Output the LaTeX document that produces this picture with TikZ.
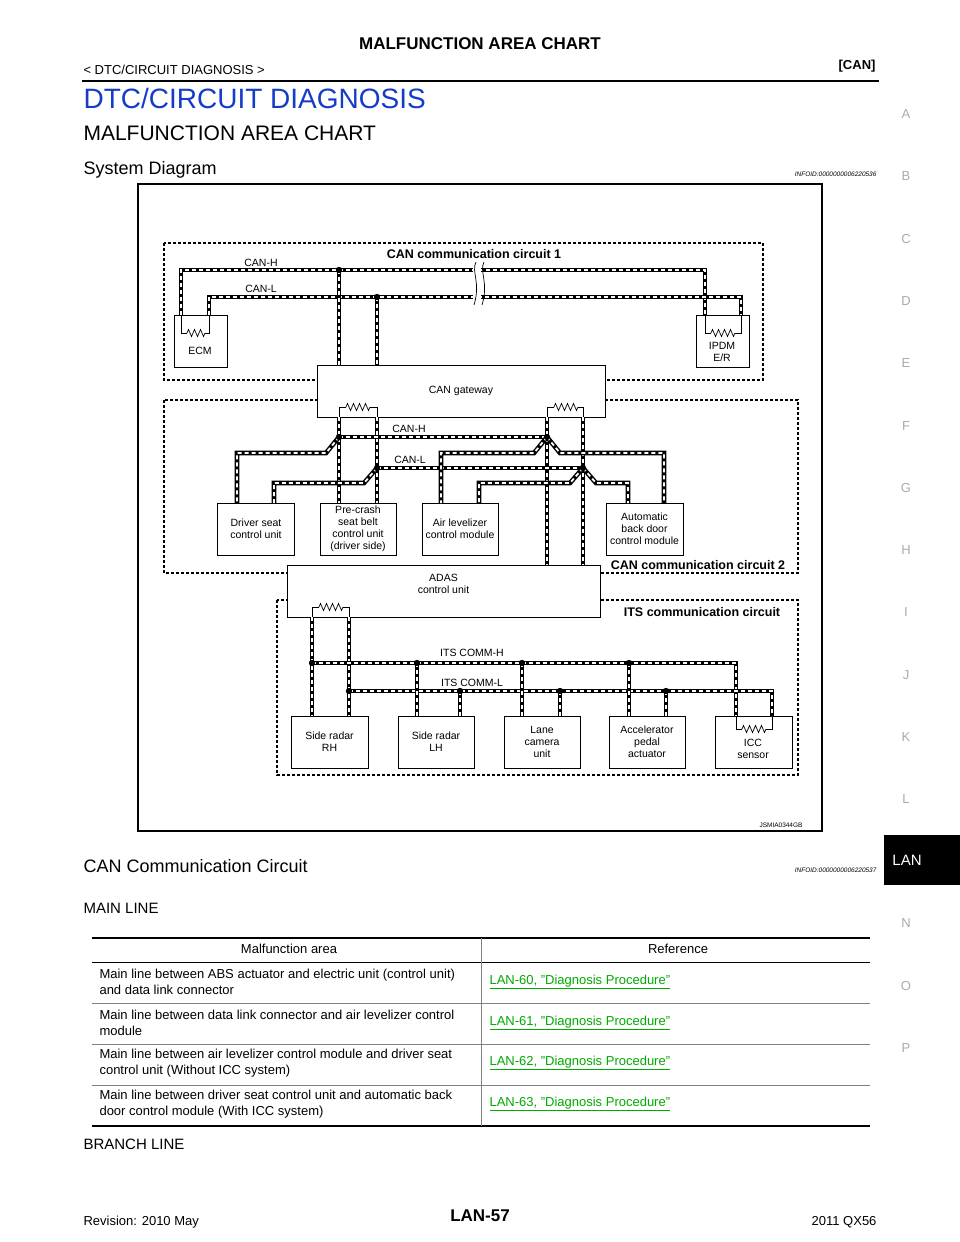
\documentclass[tikz,border=0pt]{standalone}
\usepackage{fontspec}
\setmainfont{Liberation Sans}
\usetikzlibrary{decorations.pathmorphing}
\definecolor{titleblue}{RGB}{20,60,200}
\definecolor{linkgreen}{RGB}{0,170,0}
\definecolor{sidegray}{RGB}{170,170,170}
\newcommand{\diag}{\fontsize{10.5}{12}\selectfont}
\newcommand{\body}{\fontsize{13}{16}\selectfont}
\tikzset{
  canwire/.style={line width=4.6pt, draw=black,
    postaction={draw=white, line width=1.8pt, dash pattern=on 4pt off 3pt}},
  unit/.style={draw, fill=white, line width=0.8pt, align=center,
    font=\diag, inner sep=1pt},
  circuit/.style={draw, line width=1.2pt, dash pattern=on 3pt off 2pt},
  resist/.style={line width=0.7pt, decorate,
    decoration={zigzag, segment length=6pt, amplitude=3.5pt}},
  sideletter/.style={text=sidegray, font=\fontsize{13}{14}\selectfont}
}
\begin{document}
\begin{tikzpicture}[x=1pt, y=-1pt]
  \useasboundingbox (0,0) rectangle (960,1242);
  % page header
  \node[font=\bfseries\fontsize{17}{19}\selectfont] (pagetitle) at (480,44) {MALFUNCTION AREA CHART};
  \node[anchor=west, font=\fontsize{13}{15}\selectfont] (crumb) at (80,70) {< DTC/CIRCUIT DIAGNOSIS >};
  \node[anchor=east, font=\bfseries\fontsize{13}{15}\selectfont] (tag) at (879,66) {[CAN]};
  \draw[line width=2pt] (82,81) -- (879,81);
  \node[anchor=west, text=titleblue, font=\fontsize{28}{30}\selectfont] (sect) at (80,98) {DTC/CIRCUIT DIAGNOSIS};
  \node[anchor=west, font=\fontsize{21}{23}\selectfont] (chart) at (80,133) {MALFUNCTION AREA CHART};
  \node[anchor=west, font=\fontsize{18}{20}\selectfont] (sysdiag) at (80,170) {System Diagram};
  \node[anchor=east, font=\itshape\fontsize{6.5}{7}\selectfont] (info1) at (880,174) {INFOID:0000000006220536};
  % side index
  \foreach \l/\y in {A/114,B/176,C/239,D/301,E/363,F/426,G/488,H/550,I/612,J/675,K/737,L/799,N/923,O/986,P/1048}
    \node[sideletter] at (906,\y) {\l};
  \fill[black] (884,835) rectangle (960,885);
  \node[text=white, font=\fontsize{15}{16}\selectfont] (lantab) at (907,860) {LAN};

  % diagram frame
  \draw[line width=1.5pt] (138,184) rectangle (822,831);
  \node[font=\fontsize{6.5}{7}\selectfont] (code) at (781,825) {JSMIA0344GB};

  % circuit areas
  \draw[circuit] (164,243) rectangle (763,380);
  \draw[circuit] (164,400) rectangle (798,573);
  \draw[circuit] (277,600) rectangle (798,775);
  \node[font=\bfseries\fontsize{12.5}{13}\selectfont] (c1) at (474,254) {CAN communication circuit 1};
  \node[font=\bfseries\fontsize{12.5}{13}\selectfont, fill=white, inner sep=1pt] (c2) at (698,565) {CAN communication circuit 2};
  \node[font=\bfseries\fontsize{12.5}{13}\selectfont] (c3) at (702,612) {ITS communication circuit};

  % units
  \node[unit, minimum width=53pt, minimum height=52pt] (ecm) at (200.5,341) {};
  \node[font=\diag] at (200,351) {ECM};
  \node[unit, minimum width=53pt, minimum height=52pt] (ipdm) at (722.5,341) {};
  \node[font=\diag, align=center] at (722,352) {IPDM\\E/R};
  \node[unit, minimum width=288pt, minimum height=52pt] (gw) at (461,391) {CAN gateway};
  \node[unit, minimum width=77pt, minimum height=52pt] (dseat) at (256,529) {Driver seat\\control unit};
  \node[unit, minimum width=76pt, minimum height=52pt] (precrash) at (358,529) {Pre-crash\\seat belt\\control unit\\(driver side)};
  \node[unit, minimum width=76pt, minimum height=52pt] (airlev) at (460,529) {Air levelizer\\control module};
  \node[unit, minimum width=77pt, minimum height=52pt] (backdoor) at (644.5,529) {Automatic\\back door\\control module};
  \node[unit, minimum width=313pt, minimum height=52pt, text depth=14pt] (adas) at (443.5,591) {ADAS\\control unit};
  \node[unit, minimum width=77pt, minimum height=52pt] (radarrh) at (329.5,742) {Side radar\\RH};
  \node[unit, minimum width=76pt, minimum height=52pt] (radarlh) at (436,742) {Side radar\\LH};
  \node[unit, minimum width=76pt, minimum height=52pt] (lanecam) at (542,742) {Lane\\camera\\unit};
  \node[unit, minimum width=76pt, minimum height=52pt] (accel) at (647,742) {Accelerator\\pedal\\actuator};
  \node[unit, minimum width=77pt, minimum height=52pt] (icc) at (753.5,742) {};
  \node[font=\diag, align=center] at (753,749) {ICC\\sensor};
  \node[fill=white, inner sep=0pt, minimum width=4pt, minimum height=8pt] at (603,565) {};

  % terminating resistors
  \draw[line width=0.7pt] (181,315) |- (187,333); \draw[resist] (187,333) -- (205,333); \draw[line width=0.7pt] (205,333) -| (209,315);
  \draw[line width=0.7pt] (705,315) |- (711,333); \draw[resist] (711,333) -- (735,333); \draw[line width=0.7pt] (735,333) -| (741,315);
  \draw[line width=0.7pt] (339,417) |- (346,407); \draw[resist] (346,407) -- (370,407); \draw[line width=0.7pt] (370,407) -| (377,417);
  \draw[line width=0.7pt] (547,417) |- (554,407); \draw[resist] (554,407) -- (578,407); \draw[line width=0.7pt] (578,407) -| (583,417);
  \draw[line width=0.7pt] (312,617) |- (319,607); \draw[resist] (319,607) -- (343,607); \draw[line width=0.7pt] (343,607) -| (349,617);
  \draw[line width=0.7pt] (736,716) |- (742,729); \draw[resist] (742,729) -- (766,729); \draw[line width=0.7pt] (766,729) -| (772,716);

  % CAN communication circuit 1
  \draw[canwire] (181,315) |- (705,270) -- (705,315);
  \draw[canwire] (209,315) |- (741,297) -- (741,315);
  \draw[canwire] (339,270) -- (339,365);
  \draw[canwire] (377,297) -- (377,365);
  \fill[white] (473,262) rectangle (481,305);
  \draw[line width=0.7pt] (476,262) .. controls (471,272) and (481,282) .. (474,305);
  \draw[line width=0.7pt] (484,262) .. controls (479,272) and (489,282) .. (482,305);
  \fill (339,270) circle (3.2pt);
  \fill (377,297) circle (3.2pt);
  \node[font=\diag] at (261,263) {CAN-H};
  \node[font=\diag] at (261,289) {CAN-L};

  % CAN communication circuit 2
  \draw[canwire] (339,417) -- (339,503);
  \draw[canwire] (377,417) -- (377,503);
  \draw[canwire] (547,417) -- (547,565);
  \draw[canwire] (583,417) -- (583,565);
  \draw[canwire] (339,437) -- (547,437);
  \draw[canwire] (377,468) -- (583,468);
  \draw[canwire] (339,437) -- (326,453) -- (237,453) -- (237,503);
  \draw[canwire] (377,468) -- (364,483) -- (274,483) -- (274,503);
  \draw[canwire] (547,437) -- (534,453) -- (441,453) -- (441,503);
  \draw[canwire] (583,468) -- (570,483) -- (479,483) -- (479,503);
  \draw[canwire] (547,437) -- (560,453) -- (664,453) -- (664,503);
  \draw[canwire] (583,468) -- (596,483) -- (628,483) -- (628,503);
  \foreach \p in {(339,437),(547,437),(377,468),(583,468)}
    \fill \p circle (3.2pt);
  \node[font=\diag] at (409,429) {CAN-H};
  \node[font=\diag] at (410,460) {CAN-L};

  % ITS communication circuit
  \draw[canwire] (312,617) -- (312,716);
  \draw[canwire] (349,617) -- (349,716);
  \draw[canwire] (312,663) -| (736,716);
  \draw[canwire] (349,691) -| (772,716);
  \foreach \x in {417,522,629}
    \draw[canwire] (\x,663) -- (\x,716);
  \foreach \x in {460,560,666}
    \draw[canwire] (\x,691) -- (\x,716);
  \foreach \x in {312,417,522,629}
    \fill (\x,663) circle (3.2pt);
  \foreach \x in {349,460,560,666}
    \fill (\x,691) circle (3.2pt);
  \node[font=\diag] at (472,653) {ITS COMM-H};
  \node[font=\diag] at (472,683) {ITS COMM-L};

  % CAN Communication Circuit section
  \node[anchor=west, font=\fontsize{18}{20}\selectfont] (cancirc) at (80,866) {CAN Communication Circuit};
  \node[anchor=east, font=\itshape\fontsize{6.5}{7}\selectfont] (info2) at (880,870) {INFOID:0000000006220537};
  \node[anchor=west, font=\fontsize{15}{17}\selectfont] (mainline) at (80,908) {MAIN LINE};

  % table
  \draw[line width=1.5pt] (92,938) -- (870,938);
  \draw[line width=0.6pt] (92,962) -- (870,962);
  \foreach \y in {1003,1044,1085}
    \draw[line width=0.4pt, draw=gray] (92,\y) -- (870,\y);
  \draw[line width=1.5pt] (92,1126) -- (870,1126);
  \draw[line width=0.4pt, draw=gray] (481,938) -- (481,1126);
  \node[font=\body] (hdarea) at (289,949) {Malfunction area};
  \node[font=\body] (hdref) at (678,949) {Reference};
  \foreach \y/\txt/\lan in {
      982/{Main line between ABS actuator and electric unit (control unit)\\and data link connector}/60,
      1023/{Main line between data link connector and air levelizer control\\module}/61,
      1063/{Main line between air levelizer control module and driver seat\\control unit (Without ICC system)}/62,
      1104/{Main line between driver seat control unit and automatic back\\door control module (With ICC system)}/63} {
    \node[anchor=west, align=left, font=\body] at (96,\y) {\txt};
    \node[anchor=west, text=linkgreen, font=\body] at (486,\y) {\underline{LAN-\lan, "Diagnosis Procedure"}};
  }
  \node[anchor=west, font=\fontsize{15}{17}\selectfont] (branch) at (80,1144) {BRANCH LINE};

  % footer
  \node[anchor=west, font=\fontsize{13}{15}\selectfont] (rev) at (80,1222) {Revision: 2010 May};
  \node[font=\bfseries\fontsize{17}{19}\selectfont] (pageno) at (480,1216) {LAN-57};
  \node[anchor=east, font=\fontsize{13}{15}\selectfont] (model) at (880,1222) {2011 QX56};
\end{tikzpicture}
\end{document}
